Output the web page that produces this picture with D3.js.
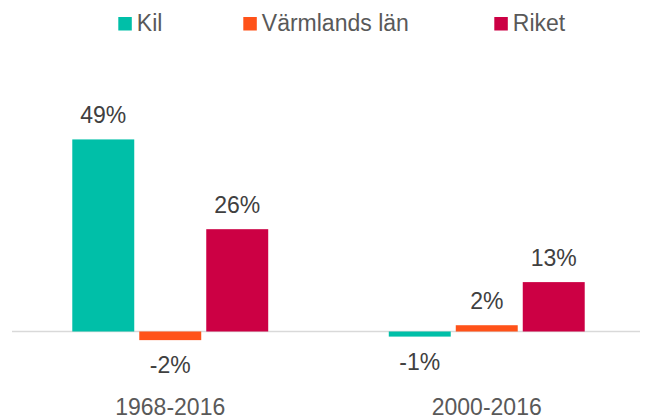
<!DOCTYPE html>
<html><head><meta charset="utf-8">
<script src="https://cdn.jsdelivr.net/npm/d3@7"></script>
<style>
html,body{margin:0;padding:0;background:#fff;}
svg{display:block;font-family:"Liberation Sans",Arial,sans-serif;}
</style></head>
<body><svg id="c" width="646" height="420"></svg>
<script>
const categories = ["1968-2016", "2000-2016"];
const seriesNames = ["Kil", "Värmlands län", "Riket"];
const kil = [49, -1.3];
const varmland = [-2.2, 1.6];
const riket = [26.1, 12.6];
const seriesColors = ["#00BFA8", "#FF5219", "#CC0044"];

const seriesValues = [kil, varmland, riket];
const data = categories.map((c, i) => ({
  cat: c,
  vals: seriesNames.map((s, j) => ({ name: s, v: seriesValues[j][i], color: seriesColors[j] }))
}));

const svg = d3.select("#c");
const x = d3.scaleBand().domain(categories).range([12, 645]).paddingInner(0).paddingOuter(0);
const xi = d3.scaleBand().domain(seriesNames).range([0, x.bandwidth()]).paddingInner(0.075).paddingOuter(0.9);
const y = d3.scaleLinear().domain([-10, 60]).range([331.5 + 39.2, 331.5 - 235.2]);

// zero axis line
svg.append("line").attr("x1", 12).attr("x2", 640).attr("y1", y(0)).attr("y2", y(0))
  .attr("stroke", "#d9d9d9").attr("stroke-width", 1.5);

const g = svg.selectAll("g.grp").data(data).join("g").attr("class", "grp")
  .attr("transform", d => `translate(${x(d.cat)},0)`);

g.selectAll("rect").data(d => d.vals).join("rect")
  .attr("x", d => xi(d.name)).attr("width", xi.bandwidth())
  .attr("y", d => y(Math.max(0, d.v))).attr("height", d => Math.abs(y(d.v) - y(0)))
  .attr("fill", d => d.color);

const fmt = d => Math.round(d).toString() + "%";
g.selectAll("text.lbl").data(d => d.vals).join("text").attr("class", "lbl")
  .attr("x", d => xi(d.name) + xi.bandwidth() / 2)
  .attr("y", d => d.v >= 0 ? y(d.v) - 16.5 : y(d.v) + 33)
  .attr("text-anchor", "middle").attr("font-size", 23).attr("fill", "#404040")
  .text(d => fmt(d.v));

// category axis labels
const xAxis = d3.axisBottom(x).tickSize(0).tickPadding(0);
const ax = svg.append("g").attr("transform", "translate(0,398)").call(xAxis);
ax.select(".domain").remove();
ax.selectAll("text").attr("font-size", 23).attr("fill", "#595959")
  .attr("font-family", "'Liberation Sans',Arial,sans-serif").attr("dy", 0).attr("y", 17);

// legend
const legX = [118.3, 243.3, 494.3];
const leg = svg.selectAll("g.leg").data(seriesNames).join("g").attr("class", "leg")
  .attr("transform", (d, i) => `translate(${legX[i]},17)`);
leg.append("rect").attr("width", 13.5).attr("height", 13.5).attr("fill", (d, i) => seriesColors[i]);
leg.append("text").attr("x", 18.5).attr("y", 14).attr("font-size", 23).attr("fill", "#595959").text(d => d);
</script></body></html>
